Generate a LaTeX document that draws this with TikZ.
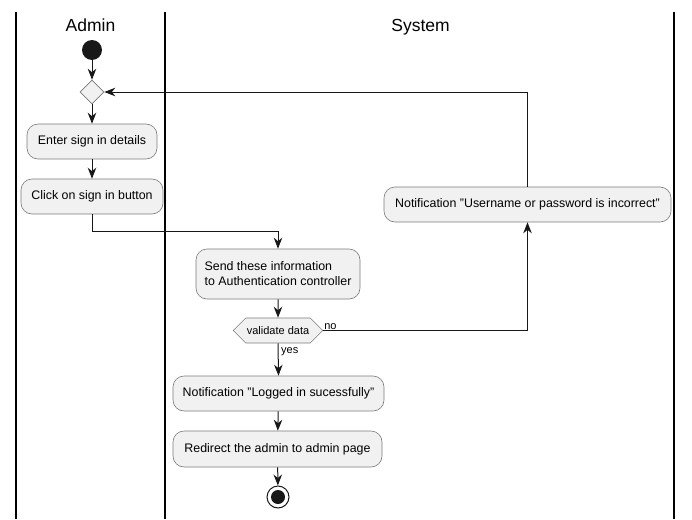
\documentclass[tikz,border=0pt]{standalone}
\usepackage{fontspec}
\setmainfont{Liberation Sans}
\usetikzlibrary{arrows.meta,shapes.geometric,shapes.symbols}
\definecolor{boxfill}{HTML}{F1F1F1}
\definecolor{boxline}{HTML}{7A7A7A}
\definecolor{ink}{HTML}{181818}
\newcommand{\dq}{\symbol{34}}
\tikzset{
  act/.style={draw=boxline, line width=0.6pt, fill=boxfill, rounded corners=11pt, inner sep=0pt, minimum height=35pt, font=\fontsize{12.4}{15}\selectfont, text=black},
  flow/.style={draw=ink, line width=1pt, -{Stealth[length=11pt,width=8.5pt,inset=3.5pt]}},
  lane/.style={draw=black, line width=1.5pt},
  lanetitle/.style={font=\fontsize{17.5}{20}\selectfont, text=black, anchor=base, inner sep=0pt},
  small/.style={font=\fontsize{11}{13}\selectfont, text=black, inner sep=1pt}
}
\begin{document}
\begin{tikzpicture}[x=1pt,y=-1pt]
\useasboundingbox (0,0) rectangle (692,519);
% lanes
\coordinate (l1t) at (16,12); \coordinate (l1b) at (16,519);
\coordinate (l2t) at (165,12); \coordinate (l2b) at (165,519);
\coordinate (l3t) at (674,12); \coordinate (l3b) at (674,519);
\draw[lane] (l1t) -- (l1b);
\draw[lane] (l2t) -- (l2b);
\draw[lane] (l3t) -- (l3b);
\node[lanetitle] (tadmin) at (90.5,32) {Admin};
\node[lanetitle] (tsys) at (420.5,32) {System};
% nodes
\node[circle, fill=ink, draw=none, minimum size=20pt, inner sep=0pt] (start) at (92,50) {};
\node[diamond, aspect=1, draw=boxline, line width=0.6pt, fill=boxfill, minimum size=24pt, inner sep=0pt] (merge) at (92,92) {};
\node[act, minimum width=130pt] (enter) at (92,141.5) {Enter sign in details};
\node[act, minimum width=142pt] (click) at (92,196.5) {Click on sign in button};
\node[act, minimum width=164pt, minimum height=50pt, align=left] (send) at (278,274) {Send these information\\to Authentication controller};
\node[signal, signal to=east and west, signal pointer angle=90, draw=boxline, line width=0.6pt, fill=boxfill, minimum width=86pt, minimum height=25pt, inner sep=1pt, font=\fontsize{11}{13}\selectfont] (valid) at (278,330.5) {validate data};
\node[act, minimum width=211pt] (logged) at (278.5,393.5) {Notification \dq Logged in sucessfully\dq};
\node[act, minimum width=209pt, minimum height=36pt] (redirect) at (277.5,449) {Redirect the admin to admin page};
\node[circle, draw=ink, line width=1pt, fill=white, minimum size=22pt, inner sep=0pt] (end) at (278,497) {};
\node[circle, fill=ink, minimum size=14pt, inner sep=0pt] (endin) at (end.center) {};
\node[act, minimum width=287pt] (wrong) at (527.5,204.5) {Notification \dq Username or password is incorrect\dq};
% connectors
\draw[flow] (start) -- (merge);
\draw[flow] (merge) -- (enter);
\draw[flow] (enter) -- (click);
\coordinate (bend1) at (92,231);
\draw[flow] (click.south) -- (bend1) -| (send.north);
\draw[flow] (send) -- (valid);
\draw[flow] (valid.east) -| (wrong.south);
\node[small, anchor=south west] (nolab) at (valid.east) {no};
\draw[flow] (valid.south) -- (logged.north);
\node[small, anchor=west] (yeslab) at (280,351.5) {yes};
\draw[flow] (logged) -- (redirect);
\draw[flow] (redirect) -- (end);
\draw[flow] (wrong.north) |- (merge.east);
\end{tikzpicture}
\end{document}
